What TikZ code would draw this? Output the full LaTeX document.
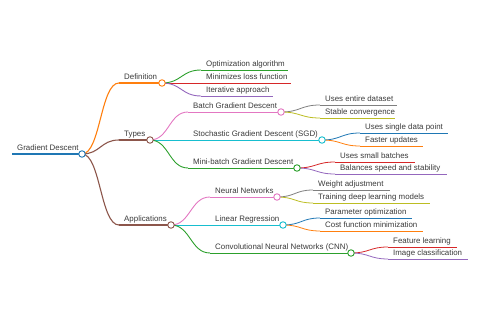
\documentclass[tikz,border=0pt]{standalone}
\usepackage{fontspec}
\setmainfont{Liberation Sans}
\usetikzlibrary{calc}
\definecolor{cBlue}{HTML}{1F77B4}
\definecolor{cOrange}{HTML}{FF7F0E}
\definecolor{cGreen}{HTML}{2CA02C}
\definecolor{cRed}{HTML}{D62728}
\definecolor{cPurple}{HTML}{9467BD}
\definecolor{cBrown}{HTML}{8C564B}
\definecolor{cPink}{HTML}{E377C2}
\definecolor{cGray}{HTML}{7F7F7F}
\definecolor{cOlive}{HTML}{BCBD22}
\definecolor{cCyan}{HTML}{17BECF}
\definecolor{txt}{HTML}{3A3A3A}
\tikzset{
  lbl/.style={font=\fontsize{7.9}{9}\selectfont, text=txt, inner sep=0pt, anchor=base west},
  circ/.style={circle, fill=white, line width=0.9pt, minimum size=6.5pt, inner sep=0pt},
}
% name, xs, xe, y, color, width, text
\newcommand\mmbranch[7]{%
  \coordinate (#1s) at (#2,#4);
  \coordinate (#1e) at (#3,#4);
  \draw[#5, line width=#6] (#1s) -- (#1e);
  \node[lbl] (#1t) at ($(#1s)+(5,-3)$) {#7};
}
\newcommand\mmlink[4]{% parent, child, color, width
  \draw[#3, line width=#4] let \p1=(#1e), \p2=(#2s) in
    (#1e) .. controls ({(\x1+\x2)/2},\y1) and ({(\x1+\x2)/2},\y2) .. (#2s);
}
\newcommand\mmdot[2]{\node[circ, draw=#2] (#1c) at (#1e) {};}
\begin{document}
\begin{tikzpicture}[x=1pt,y=-1pt]
\useasboundingbox (0,0) rectangle (480,320);
% nodes
\mmbranch{root}{12}{82}{154}{cBlue}{1.5pt}{Gradient Descent}
\mmbranch{def}{119}{162}{83}{cOrange}{1.1pt}{Definition}
\mmbranch{typ}{119}{150}{140}{cBrown}{1.1pt}{Types}
\mmbranch{app}{119}{171}{225}{cBrown}{1.1pt}{Applications}
\mmbranch{opt}{201}{288}{70}{cGreen}{0.9pt}{Optimization algorithm}
\mmbranch{min}{201}{291}{83}{cRed}{0.9pt}{Minimizes loss function}
\mmbranch{ite}{201}{273}{96}{cPurple}{0.9pt}{Iterative approach}
\mmbranch{bgd}{188}{281}{112}{cPink}{0.9pt}{Batch Gradient Descent}
\mmbranch{sgd}{188}{322}{140}{cCyan}{0.9pt}{Stochastic Gradient Descent (SGD)}
\mmbranch{mbg}{188}{297}{168}{cGreen}{0.9pt}{Mini-batch Gradient Descent}
\mmbranch{ued}{320}{397}{105}{cGray}{0.8pt}{Uses entire dataset}
\mmbranch{stc}{320}{395}{118}{cOlive}{0.8pt}{Stable convergence}
\mmbranch{usd}{360}{448}{133}{cBlue}{0.8pt}{Uses single data point}
\mmbranch{fup}{360}{423}{146}{cOrange}{0.8pt}{Faster updates}
\mmbranch{usb}{335}{415}{162}{cRed}{0.8pt}{Uses small batches}
\mmbranch{bal}{335}{447}{174}{cPurple}{0.8pt}{Balances speed and stability}
\mmbranch{nn}{210}{277}{197}{cPink}{0.9pt}{Neural Networks}
\mmbranch{lr}{210}{283}{225}{cCyan}{0.9pt}{Linear Regression}
\mmbranch{cnn}{210}{351}{253}{cGreen}{0.9pt}{Convolutional Neural Networks (CNN)}
\mmbranch{wad}{313}{390}{190}{cGray}{0.8pt}{Weight adjustment}
\mmbranch{tdl}{313}{430}{203}{cOlive}{0.8pt}{Training deep learning models}
\mmbranch{par}{320}{412}{218}{cBlue}{0.8pt}{Parameter optimization}
\mmbranch{cfm}{320}{423}{231}{cOrange}{0.8pt}{Cost function minimization}
\mmbranch{fel}{388}{457}{247}{cRed}{0.8pt}{Feature learning}
\mmbranch{imc}{388}{468}{259}{cPurple}{0.8pt}{Image classification}
% links
\mmlink{root}{def}{cOrange}{1.1pt}
\mmlink{root}{typ}{cBrown}{1.1pt}
\mmlink{root}{app}{cBrown}{1.1pt}
\mmlink{def}{opt}{cGreen}{0.9pt}
\mmlink{def}{min}{cRed}{0.9pt}
\mmlink{def}{ite}{cPurple}{0.9pt}
\mmlink{typ}{bgd}{cPink}{0.9pt}
\mmlink{typ}{sgd}{cCyan}{0.9pt}
\mmlink{typ}{mbg}{cGreen}{0.9pt}
\mmlink{bgd}{ued}{cGray}{0.8pt}
\mmlink{bgd}{stc}{cOlive}{0.8pt}
\mmlink{sgd}{usd}{cBlue}{0.8pt}
\mmlink{sgd}{fup}{cOrange}{0.8pt}
\mmlink{mbg}{usb}{cRed}{0.8pt}
\mmlink{mbg}{bal}{cPurple}{0.8pt}
\mmlink{app}{nn}{cPink}{0.9pt}
\mmlink{app}{lr}{cCyan}{0.9pt}
\mmlink{app}{cnn}{cGreen}{0.9pt}
\mmlink{nn}{wad}{cGray}{0.8pt}
\mmlink{nn}{tdl}{cOlive}{0.8pt}
\mmlink{lr}{par}{cBlue}{0.8pt}
\mmlink{lr}{cfm}{cOrange}{0.8pt}
\mmlink{cnn}{fel}{cRed}{0.8pt}
\mmlink{cnn}{imc}{cPurple}{0.8pt}
% circles
\mmdot{root}{cBlue}
\mmdot{def}{cOrange}
\mmdot{typ}{cBrown}
\mmdot{app}{cBrown}
\mmdot{bgd}{cPink}
\mmdot{sgd}{cCyan}
\mmdot{mbg}{cGreen}
\mmdot{nn}{cPink}
\mmdot{lr}{cCyan}
\mmdot{cnn}{cGreen}
\end{tikzpicture}
\end{document}
